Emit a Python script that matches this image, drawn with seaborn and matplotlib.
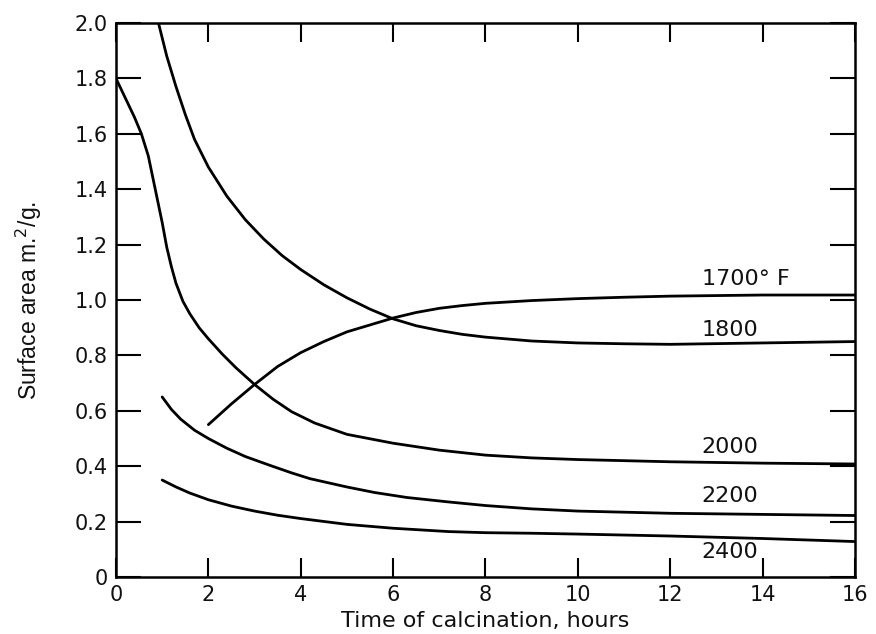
import matplotlib
matplotlib.use("Agg")
import matplotlib.pyplot as plt
import seaborn as sns
import pandas as pd

# Surface area (m^2/g) versus calcination time (hours) at several temperatures
t_1700 = [2.0, 2.5, 3.0, 3.5, 4.0, 4.5, 5.0, 5.5, 6.0, 6.5, 7.0, 7.5, 8.0, 9.0, 10.0, 11.0, 12.0, 14.0, 16.0]
s_1700 = [0.55, 0.625, 0.695, 0.76, 0.81, 0.85, 0.885, 0.91, 0.935, 0.955, 0.97, 0.98, 0.988, 0.998,
          1.005, 1.01, 1.014, 1.018, 1.018]

t_1800 = [0.92, 1.1, 1.3, 1.5, 1.7, 2.0, 2.4, 2.8, 3.2, 3.6, 4.0, 4.5, 5.0, 5.5, 6.0, 6.5, 7.0, 7.5,
          8.0, 9.0, 10.0, 11.0, 12.0, 14.0, 16.0]
s_1800 = [2.0, 1.88, 1.77, 1.67, 1.58, 1.48, 1.375, 1.29, 1.22, 1.16, 1.11, 1.055, 1.008, 0.967, 0.932,
          0.907, 0.89, 0.876, 0.866, 0.852, 0.845, 0.842, 0.84, 0.845, 0.85]

t_2000 = [0.0, 0.2, 0.4, 0.55, 0.7, 0.85, 1.0, 1.1, 1.2, 1.3, 1.45, 1.6, 1.8, 2.0, 2.3, 2.6, 3.0, 3.4,
          3.8, 4.3, 5.0, 6.0, 7.0, 8.0, 9.0, 10.0, 12.0, 14.0, 16.0]
s_2000 = [1.80, 1.73, 1.66, 1.60, 1.52, 1.40, 1.28, 1.19, 1.12, 1.06, 0.995, 0.95, 0.90, 0.86, 0.805,
          0.755, 0.695, 0.642, 0.597, 0.556, 0.515, 0.483, 0.458, 0.44, 0.43, 0.424, 0.416, 0.411, 0.408]

t_2200 = [1.0, 1.2, 1.4, 1.7, 2.0, 2.4, 2.8, 3.3, 3.8, 4.2, 5.0, 5.6, 6.3, 7.2, 8.0, 9.0, 10.0, 12.0,
          14.0, 16.0]
s_2200 = [0.65, 0.605, 0.57, 0.53, 0.50, 0.465, 0.435, 0.405, 0.376, 0.355, 0.325, 0.305, 0.287, 0.271,
          0.258, 0.246, 0.238, 0.23, 0.226, 0.222]

t_2400 = [1.0, 1.3, 1.6, 2.0, 2.5, 3.0, 3.5, 4.0, 5.0, 6.0, 7.2, 8.0, 9.0, 10.0, 12.0, 14.0, 16.0]
s_2400 = [0.35, 0.325, 0.303, 0.279, 0.256, 0.238, 0.223, 0.211, 0.19, 0.176, 0.164, 0.16, 0.158,
          0.155, 0.148, 0.139, 0.128]

curve_names = ["1700", "1800", "2000", "2200", "2400"]
curve_labels = ["1700° F", "1800", "2000", "2200", "2400"]
label_y = [1.076, 0.892, 0.47, 0.292, 0.09]

x_ticks = [0, 2, 4, 6, 8, 10, 12, 14, 16]
y_ticks = [0, 0.2, 0.4, 0.6, 0.8, 1.0, 1.2, 1.4, 1.6, 1.8, 2.0]
y_tick_text = ["0", "0.2", "0.4", "0.6", "0.8", "1.0", "1.2", "1.4", "1.6", "1.8", "2.0"]

frames = []
for name, t, s in zip(curve_names,
                      [t_1700, t_1800, t_2000, t_2200, t_2400],
                      [s_1700, s_1800, s_2000, s_2200, s_2400]):
    frames.append(pd.DataFrame({"time": t, "area": s, "temp": name}))
df = pd.concat(frames, ignore_index=True)

sns.set_theme(style="white")
plt.rcParams["font.family"] = ["DejaVu Sans"]

fig = plt.figure(figsize=(8.76, 6.34), dpi=100)
ax = fig.add_axes([0.1324, 0.0899, 0.8436, 0.8738])

sns.lineplot(data=df, x="time", y="area", units="temp", estimator=None,
             color="black", linewidth=2.0, sort=False, ax=ax, legend=False)

ax.set_xlim(0, 16)
ax.set_ylim(0, 2.0)

for sp in ax.spines.values():
    sp.set_color("black")
    sp.set_linewidth(1.8)

ax.set_xticks(x_ticks)
ax.set_xticklabels([str(v) for v in x_ticks])
ax.set_yticks(y_ticks)
ax.set_yticklabels(y_tick_text)
ax.tick_params(axis="both", direction="in", colors="black", width=1.5,
               labelsize=15, labelcolor="#111111")
ax.tick_params(axis="x", length=14, top=True, bottom=True, pad=6)
ax.tick_params(axis="y", length=18, left=True, right=True, pad=6)

ax.set_xlabel("Time of calcination, hours", fontsize=16, color="#111111")
ax.xaxis.set_label_coords(0.5, -0.062)
ax.set_ylabel("Surface area m.$^{2}$/g.", fontsize=16.5, color="#111111",
              family=["Liberation Sans Narrow", "Liberation Sans", "DejaVu Sans"])
ax.yaxis.set_label_coords(-0.098, 0.5)

for text, yv in zip(curve_labels, label_y):
    ax.text(12.68, yv, text, fontsize=16, color="#111111", ha="left", va="center")

fig.savefig("out.png", dpi=100, facecolor="white")
